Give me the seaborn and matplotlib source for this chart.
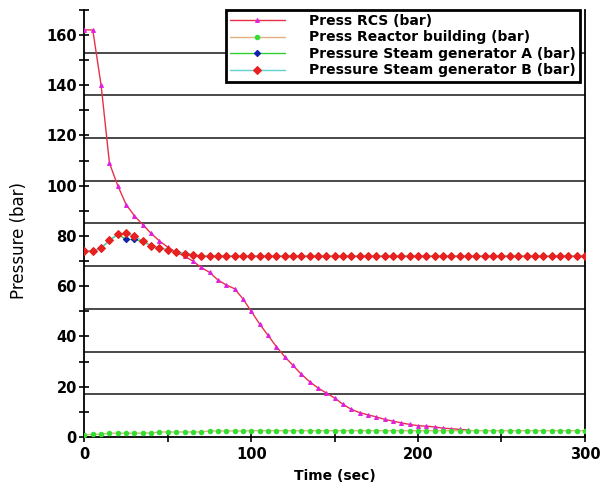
import numpy as np
import pandas as pd
import seaborn as sns
import matplotlib.pyplot as plt
import matplotlib.ticker as ticker

# time axis (s), samples every 5 s
time = list(range(0, 305, 5))

rcs_time = list(range(0, 235, 5))
rcs_press = [162, 162, 140, 109, 100, 92.5, 88, 84.5, 81, 78,
             75.5, 73.5, 72, 70, 67.5, 65.5, 62.5, 60.5, 59, 55,
             50, 45, 40.5, 36, 32, 28.5, 25, 22, 19.5, 17.5,
             15.5, 13, 11, 9.7, 8.8, 8, 7, 6.3, 5.6, 5,
             4.5, 4.3, 4, 3.5, 3.3, 3, 2.8]

building_press = [0.9, 1.0, 1.1, 1.5, 1.5, 1.5, 1.5, 1.6, 1.6, 2.0,
                  2.0, 2.0, 2.0, 2.0, 2.0, 2.4, 2.4, 2.4, 2.4, 2.4] + [2.5] * 41

sg_b_press = [74, 74, 75.2, 78.2, 80.8, 81, 80, 77.8, 76.2, 75.2,
              74.4, 73.6, 73, 72.5] + [72] * 47
sg_a_press = [74, 74, 75.2, 78.2, 80.6, 78.6, 78.6, 77.8, 76.2, 75.2,
              74.4, 73.6, 73, 72.5] + [72] * 47

grid_levels = [17, 34, 51, 68, 85, 102, 119, 136, 153]

rcs = pd.DataFrame({'t': rcs_time, 'p': rcs_press})
sg = pd.DataFrame({'t': time, 'b': building_press, 'a': sg_a_press, 'sgb': sg_b_press})

sns.set_style("white")
plt.rcParams['font.family'] = ['DejaVu Sans']
plt.rcParams['text.color'] = 'black'
plt.rcParams['xtick.color'] = 'black'
plt.rcParams['ytick.color'] = 'black'
plt.rcParams['axes.labelcolor'] = 'black'

fig = plt.figure(figsize=(6.03, 4.91), dpi=100)
ax = fig.add_axes([0.140, 0.110, 0.830, 0.870])

for lvl in grid_levels:
    ax.axhline(lvl, color='#3a3a3a', lw=1.3, zorder=0)

sns.lineplot(data=rcs, x='t', y='p', ax=ax, color='#e8304a', lw=1.0,
             marker='^', markersize=2.8, markerfacecolor='#e020e0', markeredgecolor='#e020e0',
             label='Press RCS (bar)', zorder=3)
sns.lineplot(data=sg, x='t', y='b', ax=ax, color='#e0b080', lw=1.0,
             marker='o', markersize=3.2, markerfacecolor='#30e030', markeredgecolor='#30e030',
             label='Press Reactor building (bar)', zorder=3)
sns.lineplot(data=sg, x='t', y='a', ax=ax, color='#30d030', lw=1.0,
             marker='D', markersize=3.2, markerfacecolor='#1020b0', markeredgecolor='#1020b0',
             label='Pressure Steam generator A (bar)', zorder=3)
sns.lineplot(data=sg, x='t', y='sgb', ax=ax, color='#60d0d0', lw=1.0,
             marker='D', markersize=3.6, markerfacecolor='#e82020', markeredgecolor='#e82020',
             label='Pressure Steam generator B (bar)', zorder=4)

ax.set_xlim(0, 300)
ax.set_ylim(0, 170)
ax.xaxis.set_major_locator(ticker.MultipleLocator(100))
ax.xaxis.set_minor_locator(ticker.MultipleLocator(50))
ax.yaxis.set_major_locator(ticker.MultipleLocator(20))
ax.yaxis.set_minor_locator(ticker.MultipleLocator(10))
ax.tick_params(axis='both', which='both', direction='inout', length=7, width=1.2,
               color='black', bottom=True, left=True)
ax.tick_params(axis='y', which='major', pad=2)
ax.set_xticks([0, 100, 200, 300])
ax.set_xticklabels(['0', '100', '200', '300'], fontsize=10.5, fontweight='bold')
ax.set_yticks(list(range(0, 161, 20)))
ax.set_yticklabels([str(v) for v in range(0, 161, 20)], fontsize=10.5, fontweight='bold')

for side in ['left', 'bottom', 'right']:
    ax.spines[side].set_color('black')
    ax.spines[side].set_linewidth(1.3)
ax.spines['top'].set_visible(False)

ax.set_xlabel('Time (sec)', fontsize=10, fontweight='bold')
ax.xaxis.set_label_coords(0.5, -0.075)
ax.set_ylabel('Pressure (bar)', fontsize=12)
ax.yaxis.set_label_coords(-0.112, 0.46)

leg = ax.legend(loc='upper right', bbox_to_anchor=(0.99, 1.0), borderaxespad=0,
                fancybox=False, framealpha=1, edgecolor='black', handlelength=4.0,
                numpoints=1, prop={'weight': 'bold', 'size': 10},
                labelspacing=0.18, borderpad=0.3, handletextpad=1.7)
leg.get_frame().set_linewidth(2)
leg.set_zorder(10)

plt.savefig('out.png', dpi=100)
